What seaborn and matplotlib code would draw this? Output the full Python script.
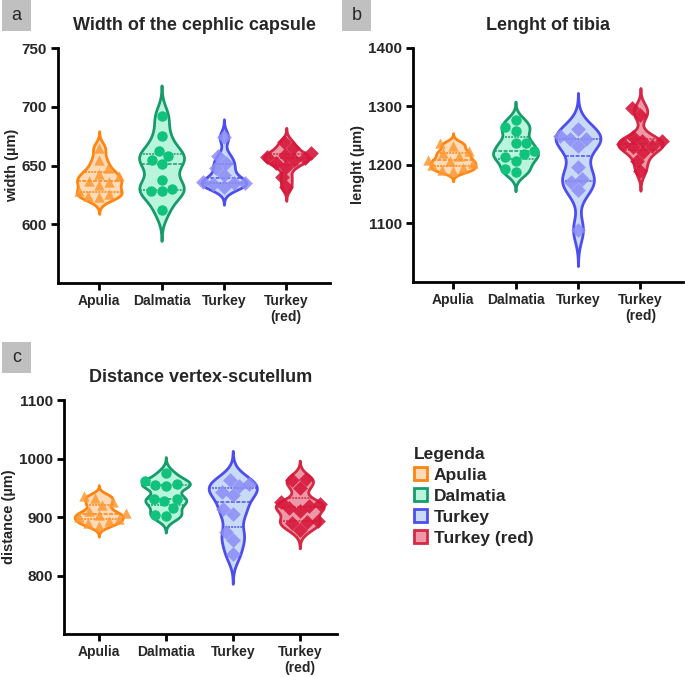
import numpy as np
import pandas as pd
import matplotlib.pyplot as plt
import seaborn as sns
from matplotlib.patches import Patch, Rectangle

# Groups and labels
groups = ["Apulia", "Dalmatia", "Turkey", "Turkey (red)"]
tick_labels = ["Apulia", "Dalmatia", "Turkey", "Turkey\n(red)"]

# Panel a - width of the cephalic capsule (µm)
width_apulia = [665, 655, 648, 643, 641, 637, 636, 633, 628, 626, 624, 623]
width_dalmatia = [692, 675, 662, 658, 655, 651, 638, 630, 628, 628, 612]
width_turkey = [674, 658, 652, 648, 642, 636, 635, 635, 634, 632]
width_turkey_red = [670, 665, 661, 659, 657, 656, 655, 652, 649, 640, 632]

# Panel b - length of tibia (µm)
tibia_apulia = [1237, 1232, 1223, 1220, 1215, 1209, 1206, 1203, 1199, 1195, 1192, 1189]
tibia_dalmatia = [1276, 1264, 1257, 1237, 1237, 1223, 1219, 1214, 1207, 1193, 1187]
tibia_turkey = [1261, 1250, 1244, 1244, 1232, 1197, 1176, 1171, 1157, 1089]
tibia_turkey_red = [1297, 1285, 1248, 1241, 1240, 1235, 1232, 1230, 1222, 1207, 1190]

# Panel c - distance vertex-scutellum (µm)
dist_apulia = [936, 933, 925, 920, 910, 907, 903, 900, 897, 893, 890, 885]
dist_dalmatia = [975, 962, 956, 955, 953, 931, 931, 927, 915, 903, 901]
dist_turkey = [963, 956, 953, 942, 938, 914, 906, 875, 861, 836]
dist_turkey_red = [965, 963, 950, 926, 922, 919, 915, 910, 894, 891, 890, 878]

# Styling per group
fill_colors = ["#FDDBB8", "#B9F4DC", "#C8DAF6", "#EC98A6"]
edge_colors = ["#FF8410", "#189B6B", "#4D4DF0", "#D42845"]
point_colors = ["#FF9833", "#10C27C", "#8C8CF6", "#D6173B"]
markers = ["^", "o", "D", "D"]
point_alpha = [0.85, 1.0, 0.85, 0.9]

sns.set_style("white")
plt.rcParams['font.family'] = ['Liberation Sans', 'DejaVu Sans']


def make_df(values):
    rows = []
    for g, vals in zip(groups, values):
        for v in vals:
            rows.append({"group": g, "value": v})
    return pd.DataFrame(rows)


def draw_panel(ax, df, title, ylabel, ylim, yticks, xlim):
    for g, fc, ec, pc, mk, a in zip(groups, fill_colors, edge_colors,
                                     point_colors, markers, point_alpha):
        sub = df[df["group"] == g]
        sns.violinplot(data=sub, x="group", y="value", order=groups,
                       color=fc, linecolor=ec, linewidth=2, inner="quart",
                       inner_kws={"linewidth": 1.1},
                       density_norm="width", width=0.72, bw_adjust=0.6,
                       cut=3, saturation=1, ax=ax)
        sns.swarmplot(data=sub, x="group", y="value", order=groups,
                      color=pc, marker=mk, size=7.5, alpha=a, linewidth=0,
                      ax=ax)
    ax.set_ylim(*ylim)
    ax.set_xlim(*xlim)
    ax.set_yticks(yticks)
    ax.set_xticks(range(len(groups)))
    ax.set_xticklabels(tick_labels, fontweight="bold", fontsize=10)
    for lab in ax.get_yticklabels():
        lab.set_fontweight("bold")
        lab.set_fontsize(11)
    ax.set_xlabel("")
    ax.set_ylabel(ylabel, fontweight="bold", fontsize=10.5, labelpad=2)
    ax.set_title(title, fontweight="bold", fontsize=13, pad=13)
    sns.despine(ax=ax)
    for s in ["left", "bottom"]:
        ax.spines[s].set_linewidth(2)
        ax.spines[s].set_color("black")
    ax.tick_params(axis="both", direction="out", length=5, width=2,
                   color="black", left=True, bottom=True, pad=3)


fig = plt.figure(figsize=(6.85, 6.77), dpi=100)
ax_a = fig.add_axes([0.0847, 0.582, 0.397, 0.347])
ax_b = fig.add_axes([0.603, 0.5835, 0.394, 0.346])
ax_c = fig.add_axes([0.0934, 0.0635, 0.398, 0.3455])

draw_panel(ax_a, make_df([width_apulia, width_dalmatia, width_turkey, width_turkey_red]),
           "Width of the cephlic capsule", "width (µm)", (550, 750),
           [600, 650, 700, 750], (-0.66, 3.7))
draw_panel(ax_b, make_df([tibia_apulia, tibia_dalmatia, tibia_turkey, tibia_turkey_red]),
           "Lenght of tibia", "lenght (µm)", (1000, 1400),
           [1100, 1200, 1300, 1400], (-0.64, 3.68))
draw_panel(ax_c, make_df([dist_apulia, dist_dalmatia, dist_turkey, dist_turkey_red]),
           "Distance vertex-scutellum", "distance (µm)", (700, 1100),
           [800, 900, 1000, 1100], (-0.52, 3.55))

# Panel letters in grey boxes
for x0, y0, letter in [(2, 0, "a"), (342, 0, "b"), (2, 342, "c")]:
    fig.patches.append(Rectangle((x0 / 685, 1 - (y0 + 31) / 677), 29 / 685, 31 / 677,
                                 transform=fig.transFigure, facecolor="#C0C0C0",
                                 edgecolor="none"))
    fig.text((x0 + 14.5) / 685, 1 - (y0 + 15.5) / 677, letter, ha="center",
             va="center", fontsize=13)

# Legend
handles = [Patch(facecolor=fc, edgecolor=ec, linewidth=2, label=g)
           for g, fc, ec in zip(groups, fill_colors, edge_colors)]
leg = fig.legend(handles=handles, title="Legenda", loc="upper left",
                 bbox_to_anchor=(0.604, 0.340), frameon=False,
                 prop={"weight": "bold", "size": 12.5},
                 title_fontproperties={"weight": "bold", "size": 12.5},
                 handlelength=0.75, handleheight=0.75, handletextpad=0.4,
                 labelspacing=0.32, borderpad=0, borderaxespad=0)
leg._legend_box.align = "left"

fig.savefig("out.png", dpi=100)
